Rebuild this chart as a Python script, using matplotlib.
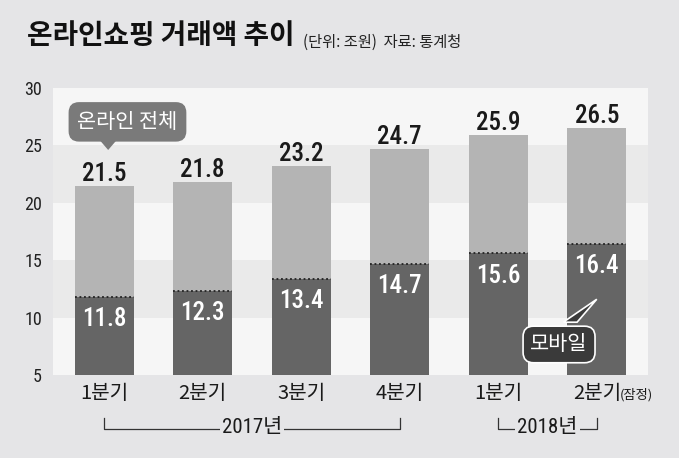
import matplotlib.pyplot as plt
from matplotlib import font_manager
from matplotlib.patches import Polygon

# 데이터 (단위: 조원)
quarters = ['1분기', '2분기', '3분기', '4분기', '1분기', '2분기']
total = [21.5, 21.8, 23.2, 24.7, 25.9, 26.5]
mobile = [11.8, 12.3, 13.4, 14.7, 15.6, 16.4]
years = ['2017년', '2018년']
year_span = [(0, 3), (4, 5)]

# 폰트 고르기 (좁은 숫자 폰트가 있으면 사용)
names = {f.name for f in font_manager.fontManager.ttflist}
narrow = 'Roboto'
for cand in ['Roboto Condensed', 'Liberation Sans Narrow', 'Open Sans Condensed']:
    if cand in names:
        narrow = cand
        break
KR = ['Noto Sans CJK KR', 'DejaVu Sans']
NUM = [narrow, 'Noto Sans CJK KR']
numsize = 18 if narrow != 'Roboto' else 17

BG = '#e5e5e7'
BAND = '#f6f6f6'
LIGHT = '#b4b4b4'
DARK = '#656565'

fig = plt.figure(figsize=(6.79, 4.58), dpi=100, facecolor=BG)
ax = fig.add_axes([53/679, 1-375/458, 595/679, 287/458])
ax.set_facecolor('#eaeaea')
ax.set_xlim(-0.52, 5.52)
ax.set_ylim(5, 30)

for lo in (5, 15, 25):
    ax.axhspan(lo, lo + 5, color=BAND, zorder=0, lw=0)

x = list(range(len(total)))
ax.bar(x, total, width=0.6, color=LIGHT, zorder=2)
ax.bar(x, mobile, width=0.6, color=DARK, zorder=3)
for i in x:
    ax.plot([i - 0.3, i + 0.3], [mobile[i], mobile[i]], color='#222222',
            lw=1.3, ls=(0, (1, 1.5)), zorder=4)
    ax.annotate(f'{total[i]}', (i, total[i]), xytext=(0, 0), textcoords='offset points',
                ha='center', va='bottom', fontsize=numsize, family=NUM,
                fontweight='medium', color='#1a1a1a')
    ax.annotate(f'{mobile[i]}', (i, mobile[i]), xytext=(0, -16), textcoords='offset points',
                ha='center', va='center', fontsize=numsize, family=NUM,
                fontweight='medium', color='white', zorder=5)

for s in ax.spines.values():
    s.set_visible(False)
ax.set_yticks([5, 10, 15, 20, 25, 30])
ax.tick_params(axis='y', length=0, pad=8, labelsize=13, labelcolor='#222222')
for t in ax.get_yticklabels():
    t.set_family(NUM)
ax.set_xticks([])

# x축 라벨
xt = ax.get_xaxis_transform()
for i, q in enumerate(quarters):
    ax.text(i, -0.065, q, transform=xt, ha='center', va='center',
            fontsize=14.5, family=KR, color='#1a1a1a')
ax.text(5.23, -0.068, '(잠정)', transform=xt, ha='left', va='center',
        fontsize=9.5, family=KR, color='#1a1a1a')

# 연도 구간
for (a, b), yr in zip(year_span, years):
    ax.plot([a, a, b, b], [-0.150, -0.188, -0.188, -0.150], transform=xt,
            color='#333333', lw=0.9, clip_on=False)
    ax.text((a + b) / 2, -0.183, yr, transform=xt, ha='center', va='center',
            fontsize=15, family=NUM, color='#1a1a1a',
            bbox=dict(boxstyle='square,pad=0.1', fc=BG, ec='none'))

# 말풍선: 온라인 전체
ax.text(0.236, 27.05, '온라인 전체', ha='center', va='center', fontsize=15,
        family=KR, color='white', zorder=6,
        bbox=dict(boxstyle='round,pad=0.42,rounding_size=0.5', fc='#7a7a7a', ec='none'))
ax.add_patch(Polygon([(-0.04, 25.4), (0.12, 25.4), (0.04, 24.6)],
                     closed=True, fc='#7a7a7a', ec='none', zorder=6))

# 말풍선: 모바일
ax.add_patch(Polygon([(4.66, 9.6), (4.80, 9.6), (5.0, 11.6)],
                     closed=True, fc='#3a3a3a', ec='white', lw=1.2, zorder=6))
ax.text(4.617, 7.66, '모바일', ha='center', va='center', fontsize=15,
        family=KR, color='white', zorder=7,
        bbox=dict(boxstyle='round,pad=0.35,rounding_size=0.5', fc='#3a3a3a', ec='white', lw=1.2))

# 제목
fig.text(27/679, 1-36/458, '온라인쇼핑 거래액 추이', ha='left', va='center',
         fontsize=20, fontweight='bold', family=KR, color='#111111')
fig.text(303/679, 1-42/458, '(단위: 조원)  자료: 통계청', ha='left', va='center',
         fontsize=11, family=KR, color='#222222')

fig.savefig('out.png', dpi=100, facecolor=BG)
